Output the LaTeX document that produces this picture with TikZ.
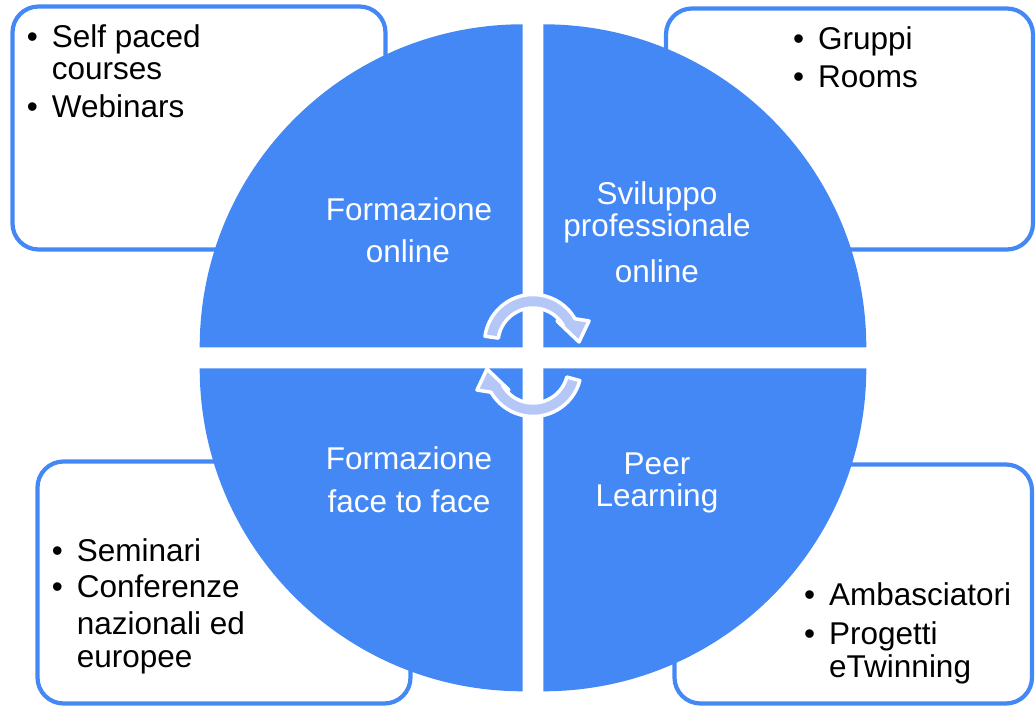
\documentclass[tikz,border=0pt]{standalone}
\usepackage{fontspec}
\setmainfont{Liberation Sans}
\usepackage{xcolor}
\usepackage{tikz}
\definecolor{quadblue}{RGB}{67,136,245}
\definecolor{arrowblue}{RGB}{180,199,247}
\tikzstyle{quadrant}=[fill=quadblue, draw=none]
\tikzstyle{listbox}=[draw=quadblue, line width=4.2pt, rounded corners=26pt, fill=white]
\tikzstyle{quad text}=[anchor=base, text=white, inner sep=0pt, font=\fontsize{31.5}{37}\selectfont]
\tikzstyle{list text}=[anchor=base west, text=black, inner sep=0pt, font=\fontsize{31.5}{37}\selectfont]
\tikzstyle{cycle arrow}=[fill=arrowblue, draw=white, line width=3.5pt, line join=round]
\newcommand{\bul}{\llap{\textbullet\hspace{14pt}}}
\pgfdeclarelayer{boxlayer}
\pgfdeclarelayer{textlayer}
\pgfsetlayers{boxlayer,main,textlayer}

\begin{document}
\begin{tikzpicture}[x=1pt, y=1pt]
	\useasboundingbox (0,0) rectangle (1036,707);
	\begin{pgfonlayer}{boxlayer}
		\draw [style=listbox] (12.5,457.5) rectangle (385.5,700.5);
		\draw [style=listbox] (666,457.5) rectangle (1033,698.5);
		\draw [style=listbox] (37.5,3.5) rectangle (410.5,245.5);
		\draw [style=listbox] (674.5,3.5) rectangle (1032,242.5);
	\end{pgfonlayer}
	% four quarters of the circle
	\fill [style=quadrant] (522.7,359.7) -- ++(180:323) arc [start angle=180, end angle=90, radius=323] -- cycle;
	\fill [style=quadrant] (543.3,359.7) -- ++(90:323) arc [start angle=90, end angle=0, radius=323] -- cycle;
	\fill [style=quadrant] (522.7,338.7) -- ++(270:323) arc [start angle=270, end angle=180, radius=323] -- cycle;
	\fill [style=quadrant] (543.3,338.7) -- ++(0:323) arc [start angle=0, end angle=-90, radius=323] -- cycle;
	% the two round arrows
	\begin{scope}[shift={(533,364)}]
		\path [style=cycle arrow] (172:48.5) arc [start angle=172, end angle=30, radius=48.5] -- (56,22) -- (46,1) -- (24,22) -- (30:35) arc [start angle=30, end angle=172, radius=35] -- cycle;
	\end{scope}
	\begin{scope}[shift={(533,339)}, rotate=180]
		\path [style=cycle arrow] (165:48.5) arc [start angle=165, end angle=30, radius=48.5] -- (56,22) -- (46,1) -- (24,22) -- (30:35) arc [start angle=30, end angle=165, radius=35] -- cycle;
	\end{scope}
	\begin{pgfonlayer}{textlayer}
		\node [style=quad text] (0) at (409,486.3) {Formazione};
		\node [style=quad text] (1) at (408,444) {online};
		\node [style=quad text] (2) at (657,502) {Sviluppo};
		\node [style=quad text] (3) at (657,470.3) {professionale};
		\node [style=quad text] (4) at (657,424.3) {online};
		\node [style=quad text] (5) at (409,237.7) {Formazione};
		\node [style=quad text] (6) at (409,194.3) {face to face};
		\node [style=quad text] (7) at (657,232) {Peer};
		\node [style=quad text] (8) at (657,200.3) {Learning};
		\node [style=list text] (9) at (51.7,659) {\bul Self paced};
		\node [style=list text] (10) at (51.7,627.5) {courses};
		\node [style=list text] (11) at (51.7,589) {\bul Webinars};
		\node [style=list text] (12) at (818,657) {\bul Gruppi};
		\node [style=list text] (13) at (818,619.5) {\bul Rooms};
		\node [style=list text] (14) at (76.7,145.3) {\bul Seminari};
		\node [style=list text] (15) at (76.7,109) {\bul Conferenze};
		\node [style=list text] (16) at (76.7,73) {nazionali ed};
		\node [style=list text] (17) at (76.7,39.3) {europee};
		\node [style=list text] (18) at (829,101.3) {\bul Ambasciatori};
		\node [style=list text] (19) at (829,63) {\bul Progetti};
		\node [style=list text] (20) at (829,29.7) {eTwinning};
	\end{pgfonlayer}
\end{tikzpicture}
\end{document}
